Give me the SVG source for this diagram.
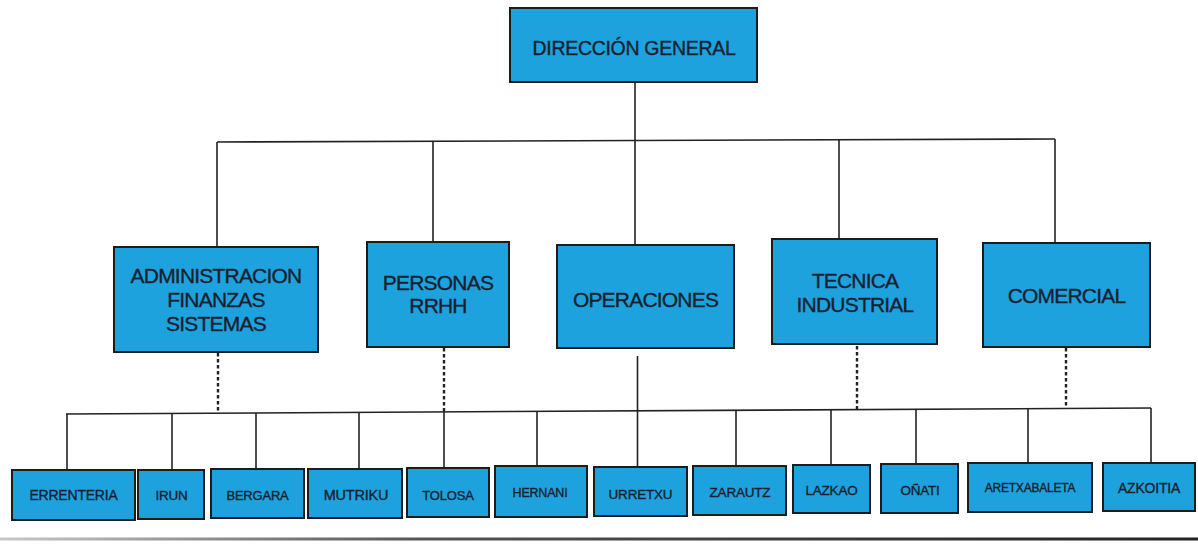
<svg xmlns="http://www.w3.org/2000/svg" width="1198" height="544" viewBox="0 0 1198 544">
<defs>
<style>
.box{fill:#1ea2de;stroke:#1c1c1c;stroke-width:2}
.t{font-family:"Liberation Sans",Arial,sans-serif;fill:#17212e;stroke:#17212e;stroke-width:0.35;text-anchor:middle}
.t1{font-size:19.5px;letter-spacing:-0.3px}
.t2{font-size:21px;letter-spacing:-0.8px}
.t3{font-size:13.5px;letter-spacing:-0.2px}
.ln{stroke:#222;stroke-width:1.6;fill:none}
.dash{stroke:#222;stroke-width:2.4;stroke-dasharray:3.5 2.5;fill:none}
</style>
<linearGradient id="edge" gradientUnits="userSpaceOnUse" x1="0" y1="0" x2="1198" y2="0">
<stop offset="0" stop-color="#c8c8c8"/>
<stop offset="0.35" stop-color="#555"/>
<stop offset="1" stop-color="#222"/>
</linearGradient>
</defs>
<rect x="0" y="0" width="1198" height="544" fill="#ffffff"/>

<g id="connectors">
<line class="ln" x1="635" y1="82" x2="635" y2="140.5"/>
<line class="ln" x1="217" y1="142" x2="1055" y2="139"/>
<line class="ln" x1="217" y1="142" x2="217" y2="247"/>
<line class="ln" x1="433" y1="141" x2="433" y2="242"/>
<line class="ln" x1="635" y1="140.5" x2="635" y2="245"/>
<line class="ln" x1="839" y1="140" x2="839" y2="239"/>
<line class="ln" x1="1055" y1="139" x2="1055" y2="243"/>

<line class="dash" x1="218" y1="353" x2="218" y2="413"/>
<line class="dash" x1="444" y1="348" x2="444" y2="412"/>
<line class="ln" x1="637.5" y1="356" x2="637.5" y2="467"/>
<line class="dash" x1="857" y1="346" x2="857" y2="409.5"/>
<line class="dash" x1="1066" y1="348" x2="1066" y2="408.5"/>

<line class="ln" x1="66" y1="414" x2="1151" y2="408"/>
<line class="ln" x1="67" y1="414" x2="67" y2="470"/>
<line class="ln" x1="172" y1="413.4" x2="172" y2="470"/>
<line class="ln" x1="256" y1="413" x2="256" y2="469"/>
<line class="ln" x1="359" y1="412.4" x2="359" y2="469"/>
<line class="ln" x1="444" y1="412" x2="444" y2="468"/>
<line class="ln" x1="537" y1="411.4" x2="537" y2="466"/>
<line class="ln" x1="736" y1="410.3" x2="736" y2="466"/>
<line class="ln" x1="831" y1="409.8" x2="831" y2="465"/>
<line class="ln" x1="916" y1="409.3" x2="916" y2="464"/>
<line class="ln" x1="1028" y1="408.7" x2="1028" y2="463"/>
<line class="ln" x1="1151" y1="408" x2="1151" y2="463"/>
</g>

<g id="direccion-general">
<rect class="box" x="510" y="8" width="247" height="74"/>
<text class="t t1" x="634" y="55">DIRECCIÓN GENERAL</text>
</g>

<g id="administracion">
<rect class="box" x="114" y="247" width="204" height="105"/>
<text class="t t2" x="216" y="283">ADMINISTRACION</text>
<text class="t t2" x="216" y="307">FINANZAS</text>
<text class="t t2" x="216" y="331">SISTEMAS</text>
</g>

<g id="personas">
<rect class="box" x="367" y="242" width="142" height="105"/>
<text class="t t2" x="438" y="290">PERSONAS</text>
<text class="t t2" x="438" y="313">RRHH</text>
</g>

<g id="operaciones">
<rect class="box" x="557" y="245" width="177" height="103"/>
<text class="t t2" x="645.5" y="307">OPERACIONES</text>
</g>

<g id="tecnica">
<rect class="box" x="772" y="239" width="165" height="105"/>
<text class="t t2" x="855" y="288">TECNICA</text>
<text class="t t2" x="855" y="312">INDUSTRIAL</text>
</g>

<g id="comercial">
<rect class="box" x="983" y="243" width="167" height="104"/>
<text class="t t2" x="1066.5" y="303">COMERCIAL</text>
</g>

<g id="errenteria">
<rect class="box" x="12" y="470" width="123" height="50"/>
<text class="t t3" x="73.5" y="500" style="font-size:14px">ERRENTERIA</text>
</g>
<g id="irun">
<rect class="box" x="138" y="470" width="66" height="49"/>
<text class="t t3" x="171.5" y="500">IRUN</text>
</g>
<g id="bergara">
<rect class="box" x="211" y="469" width="93" height="49"/>
<text class="t t3" x="257.5" y="499.5" style="font-size:13px">BERGARA</text>
</g>
<g id="mutriku">
<rect class="box" x="308" y="469" width="94" height="49"/>
<text class="t t3" x="356" y="499.5" style="font-size:14.5px">MUTRIKU</text>
</g>
<g id="tolosa">
<rect class="box" x="407" y="468" width="82" height="49"/>
<text class="t t3" x="448" y="499.5" style="font-size:13px">TOLOSA</text>
</g>
<g id="hernani">
<rect class="box" x="495" y="466" width="92" height="51"/>
<text class="t t3" x="540" y="496.5" style="font-size:12.5px">HERNANI</text>
</g>
<g id="urretxu">
<rect class="box" x="594" y="467" width="93" height="49"/>
<text class="t t3" x="640.5" y="498.5">URRETXU</text>
</g>
<g id="zarautz">
<rect class="box" x="693" y="466" width="93" height="49"/>
<text class="t t3" x="740" y="497">ZARAUTZ</text>
</g>
<g id="lazkao">
<rect class="box" x="793" y="465" width="77" height="48"/>
<text class="t t3" x="831.5" y="495">LAZKAO</text>
</g>
<g id="onati">
<rect class="box" x="881" y="464" width="77" height="49"/>
<text class="t t3" x="920" y="494.5">OÑATI</text>
</g>
<g id="aretxabaleta">
<rect class="box" x="968" y="463" width="124" height="49"/>
<text class="t t3" x="1030" y="492" style="font-size:12px">ARETXABALETA</text>
</g>
<g id="azkoitia">
<rect class="box" x="1103" y="463" width="92" height="48"/>
<text class="t t3" x="1149" y="493" style="font-size:14px">AZKOITIA</text>
</g>

<line x1="0" y1="539" x2="1198" y2="539" stroke="url(#edge)" stroke-width="3"/>
</svg>
